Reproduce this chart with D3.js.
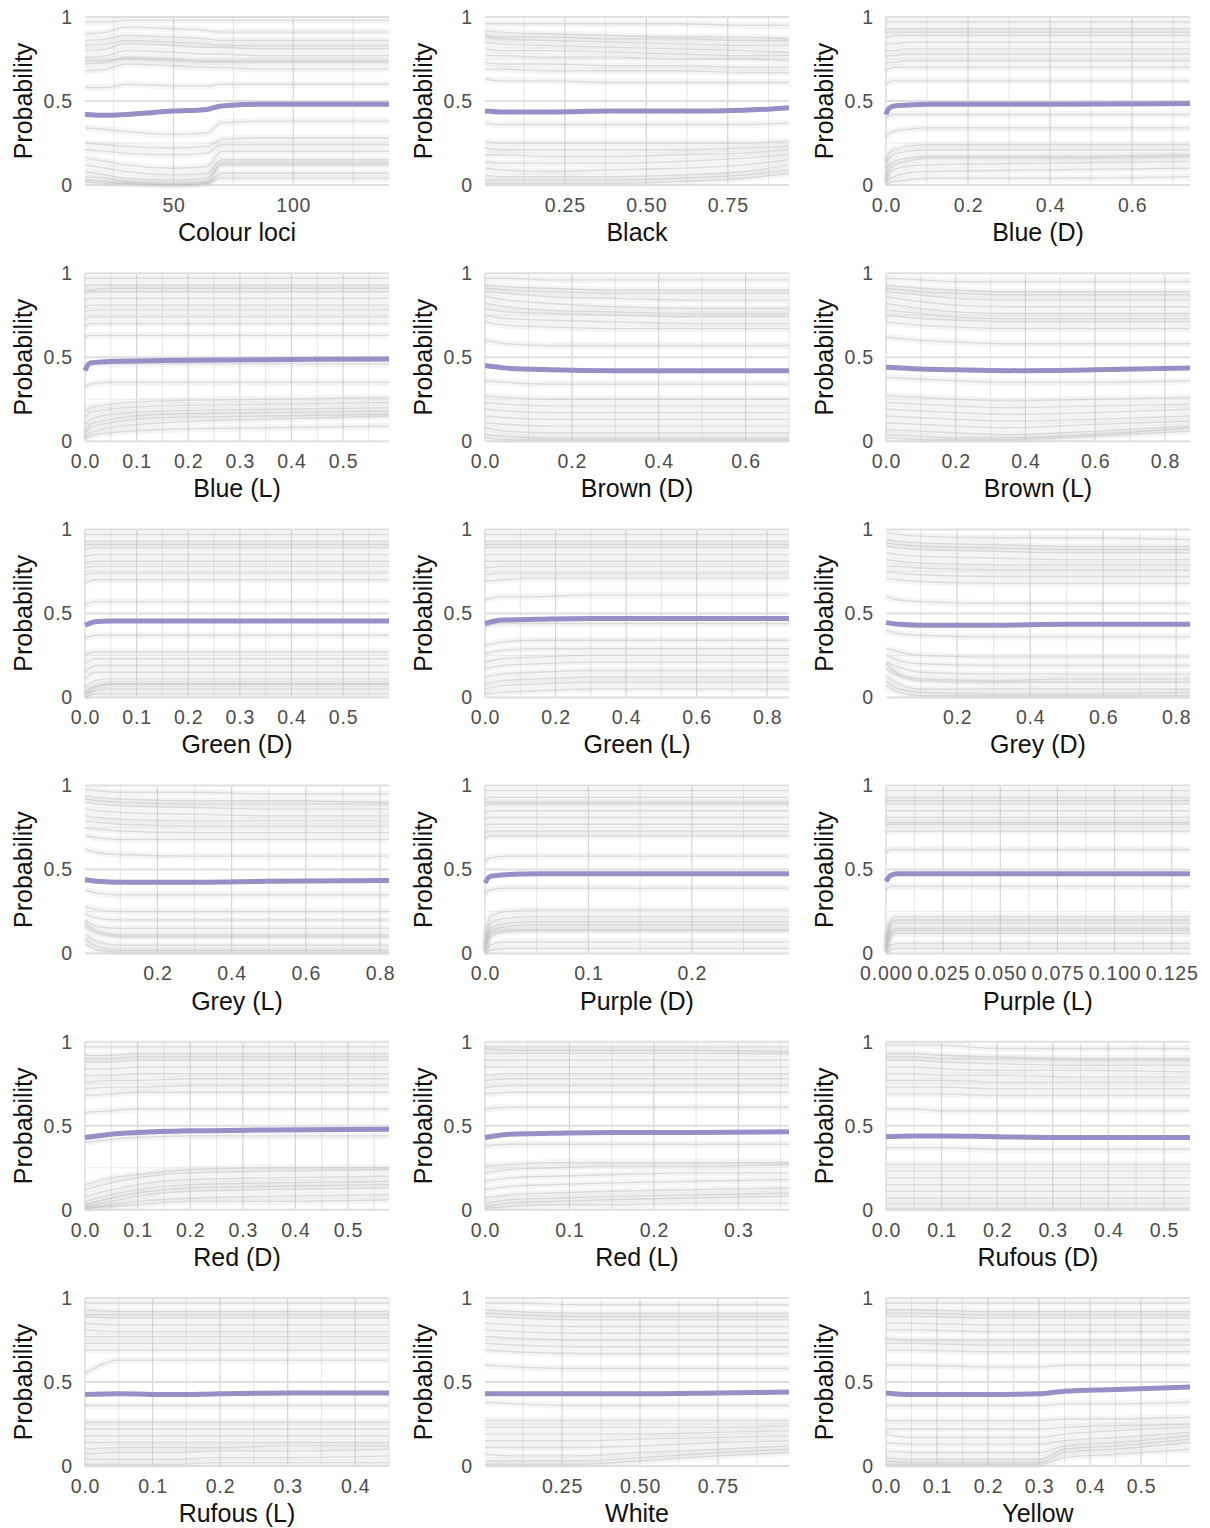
<!DOCTYPE html>
<html>
<head>
<meta charset="utf-8">
<script src="https://cdn.jsdelivr.net/npm/d3@7"></script>
<style>
  body { margin: 0; background: #fff; }
  svg { display: block; font-family: "Liberation Sans", Arial, sans-serif; }
</style>
</head>
<body>
<svg width="1210" height="1528"></svg>
<script>
// feature names, one per panel
const features = ["Colour loci", "Black", "Blue (D)", "Blue (L)", "Brown (D)", "Brown (L)",
  "Green (D)", "Green (L)", "Grey (D)", "Grey (L)", "Purple (D)", "Purple (L)",
  "Red (D)", "Red (L)", "Rufous (D)", "Rufous (L)", "White", "Yellow"];

const xDomains = [[13, 140], [0.005, 0.938], [0, 0.741], [0, 0.589], [0, 0.70], [0, 0.872],
  [0, 0.589], [0, 0.862], [0.005, 0.838], [0.005, 0.824], [0, 0.294], [0, 0.133],
  [0, 0.578], [0, 0.36], [0, 0.547], [0, 0.45], [0.003, 0.978], [0, 0.596]];

const xTickValues = [[50, 100], [0.25, 0.5, 0.75], [0, 0.2, 0.4, 0.6], [0, 0.1, 0.2, 0.3, 0.4, 0.5],
  [0, 0.2, 0.4, 0.6], [0, 0.2, 0.4, 0.6, 0.8], [0, 0.1, 0.2, 0.3, 0.4, 0.5], [0, 0.2, 0.4, 0.6, 0.8],
  [0.2, 0.4, 0.6, 0.8], [0.2, 0.4, 0.6, 0.8], [0, 0.1, 0.2], [0, 0.025, 0.05, 0.075, 0.1, 0.125],
  [0, 0.1, 0.2, 0.3, 0.4, 0.5], [0, 0.1, 0.2, 0.3], [0, 0.1, 0.2, 0.3, 0.4, 0.5], [0, 0.1, 0.2, 0.3, 0.4],
  [0.25, 0.5, 0.75], [0, 0.1, 0.2, 0.3, 0.4, 0.5]];

const xTickLabels = [["50", "100"], ["0.25", "0.50", "0.75"], ["0.0", "0.2", "0.4", "0.6"],
  ["0.0", "0.1", "0.2", "0.3", "0.4", "0.5"], ["0.0", "0.2", "0.4", "0.6"], ["0.0", "0.2", "0.4", "0.6", "0.8"],
  ["0.0", "0.1", "0.2", "0.3", "0.4", "0.5"], ["0.0", "0.2", "0.4", "0.6", "0.8"], ["0.2", "0.4", "0.6", "0.8"],
  ["0.2", "0.4", "0.6", "0.8"], ["0.0", "0.1", "0.2"], ["0.000", "0.025", "0.050", "0.075", "0.100", "0.125"],
  ["0.0", "0.1", "0.2", "0.3", "0.4", "0.5"], ["0.0", "0.1", "0.2", "0.3"], ["0.0", "0.1", "0.2", "0.3", "0.4", "0.5"],
  ["0.0", "0.1", "0.2", "0.3", "0.4"], ["0.25", "0.50", "0.75"], ["0.0", "0.1", "0.2", "0.3", "0.4", "0.5"]];

const yTickValues = [0, 50, 100];          // probability in percent
const yTickLabels = ["0", "0.5", "1"];
const yGridValues = [0, 25, 50, 75, 100];

// x positions where each panel's curves are sampled
const xPoints = [
  [13, 22, 30, 50, 64, 70, 85, 140],
  [0.005, 0.05, 0.2, 0.4, 0.6, 0.8, 0.938],
  [0, 0.005, 0.02, 0.05, 0.1, 0.4, 0.741],
  [0, 0.01, 0.05, 0.15, 0.35, 0.589],
  [0, 0.05, 0.15, 0.3, 0.5, 0.70],
  [0, 0.1, 0.2, 0.35, 0.6, 0.872],
  [0, 0.02, 0.05, 0.15, 0.35, 0.589],
  [0, 0.05, 0.15, 0.3, 0.5, 0.862],
  [0.005, 0.04, 0.1, 0.3, 0.5, 0.838],
  [0.005, 0.04, 0.1, 0.3, 0.5, 0.824],
  [0, 0.005, 0.02, 0.05, 0.15, 0.294],
  [0, 0.002, 0.005, 0.02, 0.08, 0.133],
  [0, 0.05, 0.1, 0.2, 0.35, 0.578],
  [0, 0.03, 0.08, 0.15, 0.25, 0.36],
  [0, 0.05, 0.1, 0.2, 0.35, 0.547],
  [0, 0.05, 0.13, 0.2, 0.3, 0.45],
  [0.003, 0.1, 0.3, 0.5, 0.75, 0.978],
  [0, 0.05, 0.2, 0.3, 0.35, 0.45, 0.596]
];

// partial dependence (average) curve, percent
const pdpValues = [
  [42, 41.5, 42, 44, 45, 47, 48, 48],
  [44, 43.5, 43.5, 44, 44, 44.5, 46],
  [42, 45, 47, 47.5, 48, 48, 48.5],
  [42, 46.5, 47.5, 48, 48.5, 49],
  [45, 43.5, 42.5, 42, 42, 42],
  [44, 43, 42.5, 42, 42.5, 43.5],
  [43, 45, 45.5, 45.5, 45.5, 45.5],
  [44, 46, 46.5, 47, 47, 47],
  [44.5, 43.5, 43, 43, 43.5, 43.5],
  [44, 43, 42.5, 42.5, 43, 43.5],
  [42, 46, 47, 47.5, 47.5, 47.5],
  [43, 46.5, 47.5, 47.5, 47.5, 47.5],
  [43, 45, 46, 47, 47.5, 48],
  [43, 45, 45.5, 46, 46, 46.5],
  [43.5, 44, 44, 43.5, 43, 43],
  [42.5, 43, 42.5, 43, 43.5, 43.5],
  [43, 43, 43, 43, 43.5, 44],
  [43.5, 42.5, 42.5, 43, 44.5, 45.5, 47]
];

// individual conditional expectation curves, percent
const iceColourLoci = [
  [97,97,98,98,98,98,98,98], [90,91,94,93,92,91,91,91], [86,87,89,88,87,86,86,86],
  [80,81,84,83,82,82,81,81], [76,77,80,79,78,78,77,77], [72,73,76,75,74,74,74,74],
  [68,69,72,71,70,70,69,69], [83,84,86,85,84,83,83,83], [74,74,75,74,73,73,73,73],
  [58,58,60,59,59,60,60,60], [34,33,32,30,31,37,38,38], [25,24,23,22,23,27,28,28],
  [21,20,19,18,19,24,24,24], [16,14,12,10,11,20,20,20], [12,10,8,6,7,15,15,15],
  [8,6,4,3,4,13,13,13], [5,4,2,1,2,12,12,12], [3,2,1,0,1,7,7,7], [2,1,1,0,1,4,4,4]
];
const iceBlack = [
  [96,96,96,96,96,95,95], [92,91,90,89,88,88,87], [88,87,86,85,84,83,83],
  [85,84,83,82,81,80,79], [81,80,80,79,78,77,77], [77,77,76,76,75,75,74],
  [73,72,72,71,71,70,70], [69,69,68,68,68,67,67], [89,88,88,87,87,86,86],
  [63,62,62,61,61,61,61], [37,36,36,36,36,36,37], [26,25,25,25,25,25,26],
  [22,21,21,21,21,22,23], [18,18,17,17,18,19,21], [14,13,13,13,14,16,18],
  [10,9,8,9,10,12,15], [6,5,5,5,6,8,12], [3,3,3,3,4,6,9], [1,1,1,1,2,4,7]
];
const iceBlueD = [
  [97,97,97,97,97,97,97], [92,93,93,93,93,93,93], [88,88,89,89,89,89,89],
  [83,84,84,85,85,85,85], [79,80,80,81,81,81,81], [76,77,77,78,78,78,78],
  [72,73,73,74,74,74,74], [68,69,70,70,70,70,70], [90,91,91,91,91,91,91],
  [60,61,62,62,62,62,62], [40,41,42,42,42,42,42], [28,30,32,33,34,34,34],
  [14,18,21,23,24,24,24], [10,15,18,20,21,21,21], [6,11,14,16,17,17,18],
  [3,8,12,14,16,16,17], [2,6,9,11,12,13,14], [1,3,5,7,8,9,10], [0,1,2,3,4,4,5]
];
const iceBlueL = [
  [97,97,97,97,97,97], [92,93,93,93,93,93], [88,89,89,89,89,89], [84,85,85,85,85,85],
  [80,81,81,81,81,81], [77,78,78,78,78,78], [73,74,74,74,74,74], [68,70,70,70,70,70],
  [90,90,91,91,91,91], [62,63,63,63,63,63], [45,46,46,46,46,46], [32,34,35,35,35,35],
  [18,20,22,24,25,26], [14,17,19,21,22,23], [10,13,16,18,19,20], [6,10,13,16,17,18],
  [4,8,11,14,15,16], [2,5,8,11,13,15], [1,3,5,7,8,9]
];
const iceBrownD = [
  [97,97,96,96,96,96], [93,92,91,90,90,90], [89,88,86,85,84,84], [86,84,82,80,79,79],
  [82,80,78,77,76,76], [79,77,76,75,74,74], [75,73,72,71,70,70], [71,69,68,67,67,67],
  [91,90,89,88,88,88], [60,58,57,57,57,57], [36,35,34,34,34,34], [27,26,25,25,25,25],
  [23,22,21,21,21,21], [19,18,17,17,17,17], [15,14,13,13,13,13], [11,10,9,9,9,9],
  [8,6,5,5,5,5], [4,3,2,2,2,2], [2,1,1,1,1,1]
];
const iceBrownL = [
  [97,96,95,95,95,95], [93,91,90,89,89,89], [89,87,85,84,84,84], [86,83,81,80,80,80],
  [82,79,77,76,76,76], [78,76,74,73,73,73], [75,73,72,71,71,71], [71,69,68,67,67,67],
  [91,89,88,87,87,87], [62,60,59,58,58,58], [38,37,36,35,35,36], [27,26,25,24,25,26],
  [23,22,21,20,21,22], [19,18,17,16,17,19], [15,14,13,12,13,15], [11,10,9,8,10,12],
  [7,6,5,4,6,9], [4,3,2,2,4,8], [2,1,1,1,3,6]
];
const iceGreenD = [
  [97,97,97,97,97,97], [93,93,93,93,93,93], [88,89,89,89,89,89], [84,85,85,85,85,85],
  [80,81,81,81,81,81], [77,78,78,78,78,78], [73,74,74,74,74,74], [68,70,70,70,70,70],
  [91,91,91,91,91,91], [55,57,57,57,57,57], [35,37,37,37,37,37], [25,27,27,27,27,27],
  [20,23,23,23,23,23], [15,19,19,19,19,19], [11,15,15,15,15,15], [6,10,11,11,11,11],
  [3,7,8,8,8,8], [2,6,8,8,8,8], [1,4,5,5,5,5], [0,2,2,2,2,2]
];
const iceGreenL = [
  [97,97,97,97,97,97], [93,93,93,93,93,93], [89,89,89,89,89,89], [85,85,85,85,85,85],
  [81,81,81,81,81,81], [77,78,78,78,78,78], [73,74,74,74,74,74], [69,70,71,71,71,71],
  [91,91,91,91,91,91], [58,60,60,61,61,61], [42,44,44,44,44,44], [31,33,34,34,34,34],
  [26,28,29,29,29,29], [21,23,24,25,25,25], [17,19,20,21,21,21], [12,14,15,16,16,16],
  [8,10,11,12,12,12], [5,7,8,9,9,9], [2,3,4,5,5,5]
];
const iceGreyD = [
  [98,97,96,95,95,94], [94,93,92,91,90,90], [90,89,88,87,86,86], [86,85,84,83,82,82],
  [82,81,80,79,79,79], [78,78,77,76,76,76], [75,74,73,72,72,72], [71,70,69,68,68,68],
  [92,91,90,89,88,88], [60,58,57,56,56,56], [40,38,37,36,36,36], [29,27,25,24,24,24],
  [25,22,20,19,19,19], [21,18,15,14,14,14], [17,13,10,9,9,9], [13,8,5,5,5,5],
  [10,5,3,2,2,3], [7,3,1,1,1,1], [20,14,11,10,11,11]
];
const iceGreyL = [
  [98,97,96,96,95,95], [94,93,92,91,91,90], [90,89,88,87,86,86], [86,85,84,83,82,82],
  [82,81,80,79,79,79], [79,78,77,76,76,76], [75,74,73,72,72,72], [70,69,68,68,68,68],
  [92,91,90,89,89,89], [62,60,59,58,58,58], [38,36,35,35,35,35], [28,26,25,25,25,25],
  [24,21,20,20,20,20], [20,16,15,15,15,15], [16,12,10,10,10,10], [12,7,5,5,5,5],
  [9,4,2,2,2,2], [6,2,1,1,1,1], [18,13,11,11,11,11]
];
const icePurpleD = [
  [97,97,97,97,97,97], [92,93,93,93,93,93], [88,89,89,89,89,89], [84,85,85,85,85,85],
  [80,81,81,81,81,81], [76,77,77,77,77,77], [72,73,73,73,73,73], [68,70,70,70,70,70],
  [90,90,90,90,90,90], [55,57,58,58,58,58], [35,38,39,39,39,39], [10,22,25,26,26,26],
  [6,18,21,22,22,22], [3,13,16,17,17,17], [4,15,18,19,19,19], [2,12,14,14,14,14],
  [1,10,13,14,14,14], [1,5,7,7,7,7], [0,2,3,3,3,3]
];
const icePurpleL = [
  [97,97,97,97,97,97], [93,93,93,93,93,93], [89,89,89,89,89,89], [85,85,85,85,85,85],
  [81,81,81,81,81,81], [78,78,78,78,78,78], [76,77,77,77,77,77], [72,73,73,73,73,73],
  [90,91,91,91,91,91], [60,62,62,62,62,62], [38,40,40,40,40,40], [8,20,22,22,22,22],
  [4,18,20,20,20,20], [5,16,18,18,18,18], [3,13,15,15,15,15], [2,12,14,14,14,14],
  [1,10,12,12,12,12], [1,5,6,6,6,6], [0,2,3,3,3,3]
];
const iceRedD = [
  [97,97,97,97,97,97], [92,92,93,93,93,93], [88,88,89,89,89,89], [84,84,85,85,85,85],
  [80,80,81,81,81,81], [76,77,77,78,78,78], [72,73,73,74,74,74], [68,69,70,70,70,70],
  [90,90,91,91,91,91], [58,59,60,60,60,60], [40,42,43,44,44,44], [15,19,21,24,25,25],
  [12,16,19,22,23,24], [8,12,15,18,19,20], [5,9,12,15,16,17], [3,7,10,13,14,15],
  [2,5,8,11,12,13], [1,3,5,7,8,9], [1,2,3,5,5,6]
];
const iceRedL = [
  [97,97,97,97,97,97], [93,93,93,93,93,93], [89,89,89,89,89,89], [85,85,85,85,85,85],
  [80,81,81,81,81,81], [77,78,78,78,78,78], [73,74,74,74,74,74], [69,70,70,70,70,70],
  [96,95,95,95,95,94], [60,61,61,61,61,61], [38,39,39,39,39,39], [26,27,28,28,28,28],
  [22,24,25,26,26,27], [17,19,20,21,22,22], [12,14,15,16,17,18], [7,9,10,11,12,13],
  [4,6,7,8,9,10], [2,4,5,6,7,8], [1,2,3,3,4,4]
];
const iceRufousD = [
  [98,98,98,96,96,96], [93,93,92,91,90,90], [89,89,88,87,86,86], [85,85,84,83,83,82],
  [81,81,80,80,79,79], [77,77,77,76,76,76], [73,73,73,72,72,72], [69,69,69,68,68,68],
  [91,91,90,90,89,89], [60,60,59,59,59,59], [37,37,37,36,36,36], [27,27,27,27,27,27],
  [23,23,23,23,23,23], [19,19,19,19,19,19], [15,15,15,15,15,15], [11,11,11,11,11,11],
  [7,7,7,7,7,7], [4,4,4,4,4,4], [1,1,1,1,1,1]
];
const iceRufousL = [
  [97,97,97,97,97,97], [93,92,92,92,92,92], [89,88,88,88,88,88], [85,84,84,84,84,84],
  [81,80,80,80,80,80], [77,77,77,77,77,77], [73,73,73,73,73,73], [69,69,69,69,69,69],
  [90,90,90,90,90,90], [55,63,63,63,63,63], [36,36,36,36,36,36], [26,26,26,26,26,26],
  [22,22,22,22,22,22], [18,18,18,18,18,18], [14,14,14,14,14,14], [7,8,8,9,9,10],
  [10,11,11,11,12,12], [4,4,4,5,5,6], [1,1,1,2,2,2]
];
const iceWhite = [
  [97,97,96,96,96,96], [93,92,91,91,91,91], [89,88,87,87,87,87], [85,84,83,83,83,83],
  [81,80,79,79,79,79], [77,76,75,75,75,75], [73,72,71,71,71,71], [69,68,67,67,67,67],
  [91,90,89,89,89,89], [60,59,58,58,58,58], [38,37,36,36,36,36], [27,27,27,27,27,27],
  [23,23,23,23,23,24], [19,19,19,19,20,21], [15,15,15,16,17,18], [11,11,11,12,14,15],
  [7,6,6,8,10,12], [3,3,3,5,8,10], [1,1,1,3,6,8]
];
const iceYellow = [
  [97,97,97,97,97,97,97], [93,93,92,92,92,92,92], [89,89,88,88,88,88,88],
  [85,85,84,84,84,84,84], [81,81,80,80,80,80,80], [76,75,75,75,75,75,75],
  [73,73,72,72,72,72,72], [69,69,68,68,68,68,68], [91,91,90,90,90,90,90],
  [60,60,59,59,60,60,60], [36,36,36,36,37,37,38], [27,27,27,27,28,28,29],
  [22,22,22,22,23,24,25], [19,17,17,17,19,21,23], [14,13,13,13,15,17,20],
  [9,8,8,8,12,14,18], [5,4,4,4,10,12,16], [3,2,2,2,8,10,14], [1,1,1,1,5,7,10]
];

const iceCurves = [iceColourLoci, iceBlack, iceBlueD, iceBlueL, iceBrownD, iceBrownL,
  iceGreenD, iceGreenL, iceGreyD, iceGreyL, icePurpleD, icePurpleL,
  iceRedD, iceRedL, iceRufousD, iceRufousL, iceWhite, iceYellow];

// layout
const colLeft = [85, 485, 886];
const plotW = 304;
const plotH = 168;
const rowTop = d3.range(6).map(r => 17 + r * 256.2);

const svg = d3.select('svg');
svg.append('rect').attr('width', 1210).attr('height', 1528).attr('fill', '#fff');

const y = d3.scaleLinear().domain([0, 100]).range([plotH, 0]);

features.forEach((name, i) => {
  const col = i % 3, row = Math.floor(i / 3);
  const g = svg.append('g').attr('transform', `translate(${colLeft[col]},${rowTop[row]})`);
  const x = d3.scaleLinear().domain(xDomains[i]).range([0, plotW]);
  const ticks = xTickValues[i];
  const xs = xPoints[i];

  // grid: major at breaks, minor halfway
  const step = ticks[1] - ticks[0];
  const grid = [];
  const k0 = Math.floor(xDomains[i][0] / (step / 2)) - 1;
  const k1 = Math.ceil(xDomains[i][1] / (step / 2)) + 1;
  for (let k = k0; k <= k1; k++) {
    const v = k * step / 2;
    if (v >= xDomains[i][0] - 1e-9 && v <= xDomains[i][1] + 1e-9) grid.push({v, major: k % 2 === 0});
  }
  g.selectAll('line.vgrid').data(grid).join('line')
    .attr('x1', d => x(d.v)).attr('x2', d => x(d.v))
    .attr('y1', 0).attr('y2', plotH)
    .attr('stroke', d => d.major ? '#d6d6d6' : '#e3e3e3')
    .attr('stroke-width', d => d.major ? 1.2 : 0.9);
  g.selectAll('line.hgrid').data(yGridValues).join('line')
    .attr('x1', 0).attr('x2', plotW)
    .attr('y1', d => y(d)).attr('y2', d => y(d))
    .attr('stroke', d => d % 50 === 0 ? '#e0e0e0' : '#ececec')
    .attr('stroke-width', d => d % 50 === 0 ? 2 : 1);

  const line = d3.line()
    .x((d, j) => x(xs[j]))
    .y(d => y(d))
    .curve(d3.curveMonotoneX);

  // ICE curves: soft halo + thin line
  g.append('g').selectAll('path').data(iceCurves[i]).join('path')
    .attr('d', line).attr('fill', 'none')
    .attr('stroke', '#cdcdcd').attr('stroke-width', 7).attr('stroke-opacity', 0.2);
  g.append('g').selectAll('path').data(iceCurves[i]).join('path')
    .attr('d', line).attr('fill', 'none')
    .attr('stroke', '#bcbcbc').attr('stroke-width', 1.4).attr('stroke-opacity', 0.45);

  // PDP
  g.append('path').datum(pdpValues[i])
    .attr('d', line).attr('fill', 'none')
    .attr('stroke', '#9591c8').attr('stroke-width', 5)
    .attr('stroke-linejoin', 'round');

  // axes
  const xAxis = g.append('g').attr('transform', `translate(0,${plotH})`)
    .call(d3.axisBottom(x).tickValues(ticks).tickFormat((d, k) => xTickLabels[i][k])
      .tickSize(0).tickPadding(13));
  xAxis.select('.domain').remove();
  xAxis.selectAll('text').attr('font-size', 19.5).attr('fill', '#4d4d4d')
    .attr('letter-spacing', 0.8)
    .attr('font-family', '"Liberation Sans", Arial, sans-serif');

  const yAxis = g.append('g')
    .call(d3.axisLeft(y).tickValues(yTickValues).tickFormat((d, k) => yTickLabels[k])
      .tickSize(0).tickPadding(12));
  yAxis.select('.domain').remove();
  yAxis.selectAll('text').attr('font-size', 19.5).attr('fill', '#4d4d4d')
    .attr('letter-spacing', 0.8)
    .attr('font-family', '"Liberation Sans", Arial, sans-serif');

  // titles
  g.append('text')
    .attr('x', plotW / 2).attr('y', plotH + 56)
    .attr('text-anchor', 'middle')
    .attr('font-size', 25).attr('fill', '#111')
    .text(name);
  g.append('text')
    .attr('transform', `translate(-62,${plotH / 2}) rotate(-90)`)
    .attr('text-anchor', 'middle').attr('dominant-baseline', 'central')
    .attr('font-size', 25).attr('fill', '#111')
    .text('Probability');
});
</script>
</body>
</html>
